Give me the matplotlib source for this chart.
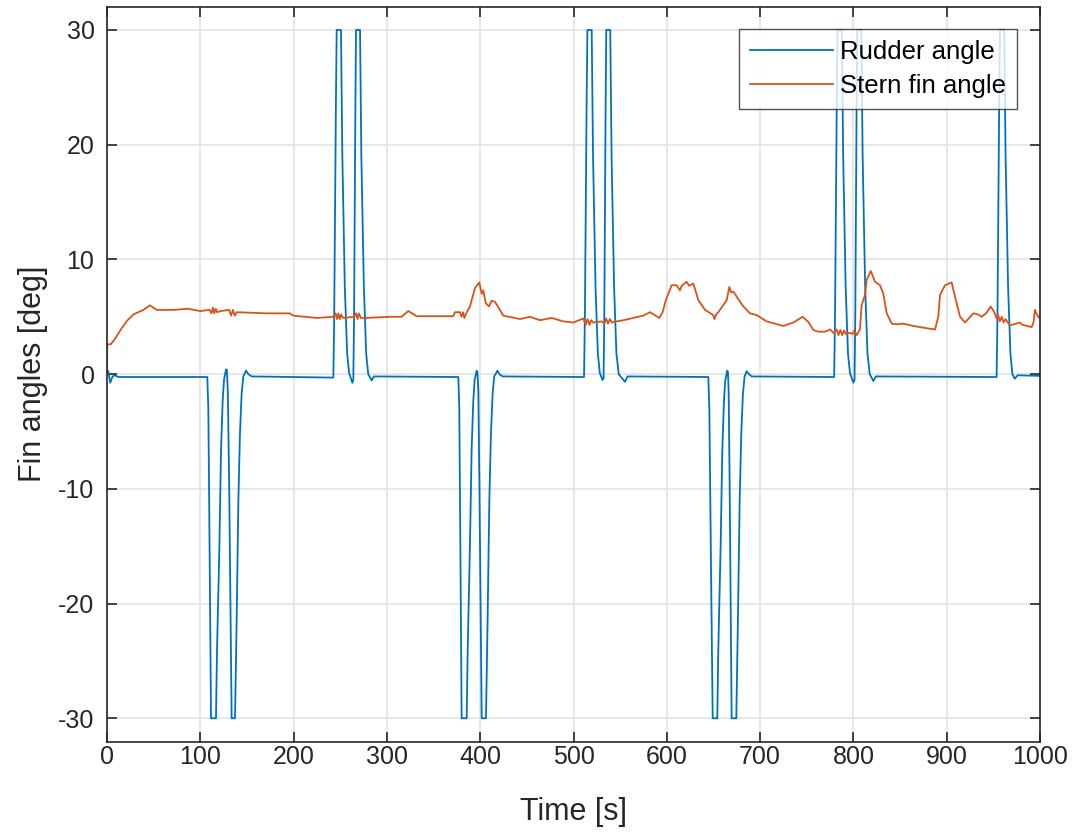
import matplotlib
matplotlib.use("Agg")
import matplotlib.pyplot as plt

# ---------------- data ----------------
rudder_t = [0, 1.5, 3.5, 6, 8.6, 12, 107.5,
            108.6, 109.4, 110.4, 111.5, 116.8, 117.9, 120.4, 122.2, 124.0, 125.4, 127.5, 128.5,
            129.5, 131.0, 132.3, 133.6, 137.2, 139.0, 140.8, 142.5, 144.3, 146.1, 149.0, 151.5, 155.0,
            242.6, 243.5, 244.5, 245.4, 246.2, 250.8, 252.2, 254.9, 257.4, 259.5, 263.0,
            264.0, 264.8, 265.5, 266.2, 266.9, 271.2, 272.6, 275.3, 277.8, 280.0, 283.6, 286.0,
            376.6, 377.6, 378.3, 379.2, 380.1, 385.5, 386.6, 389.0, 390.8, 392.6, 394.0, 396.2, 397.0,
            398.0, 399.2, 400.4, 401.6, 406.2, 408.0, 409.8, 411.5, 413.3, 415.0, 418.5, 420.5, 424.0,
            511.3, 512.2, 513.2, 514.1, 514.9, 519.5, 520.9, 523.6, 526.1, 528.2, 531.0,
            532.2, 533.0, 533.7, 534.4, 535.1, 539.4, 540.8, 543.5, 546.0, 548.5, 555.2, 558.0,
            644.5, 645.6, 646.5, 647.8, 649.2, 654.1, 655.2, 657.7, 659.5, 661.3, 662.7, 664.8, 665.5,
            666.3, 667.4, 668.4, 669.5, 674.5, 676.3, 678.1, 679.8, 681.6, 683.4, 685.6, 688.0, 691.0,
            779.4, 780.3, 781.3, 782.2, 783.0, 787.6, 789.0, 791.7, 794.2, 796.3, 800.0,
            801.2, 802.0, 802.7, 803.4, 804.1, 808.5, 809.9, 812.6, 815.1, 817.5, 821.4, 824.0,
            953.5, 954.4, 955.4, 956.3, 957.1, 961.7, 963.1, 965.8, 968.3, 970.4, 973.0, 976.0, 1000]
rudder_deg = [0.4, 0.2, -0.75, -0.2, -0.1, -0.25, -0.25,
              -3, -10, -20, -30, -30, -24.1, -15.3, -6.6, -2.3, -0.5, 0.4, 0.4,
              -1.5, -10, -20, -30, -30, -21.2, -11, -5.2, -1.7, -0.2, 0.3, 0.0, -0.2,
              -0.3, 5, 15, 24, 30, 30, 19.2, 7.6, 1.8, 0.1, -0.75,
              -0.5, 5, 14, 23, 30, 30, 19, 7.6, 1.8, 0.0, -0.55, -0.2,
              -0.25, -3, -10, -20, -30, -30, -24, -15, -6.6, -2.3, -0.5, 0.3, 0.2,
              -1.5, -10, -20, -30, -30, -21, -11, -5.2, -1.7, -0.2, 0.3, 0.0, -0.2,
              -0.25, 5, 15, 24, 30, 30, 19.2, 7.6, 1.8, 0.1, -0.5,
              -0.4, 5, 14, 23, 30, 30, 19, 7.6, 1.8, 0.0, -0.67, -0.2,
              -0.25, -3, -10, -20, -30, -30, -24, -15, -6.6, -2.3, -0.5, 0.3, 0.2,
              -1.5, -10, -20, -30, -30, -21, -11, -5.2, -1.7, -0.2, 0.25, 0.0, -0.2,
              -0.25, 5, 15, 24, 30, 30, 19.2, 7.6, 1.8, 0.1, -0.75,
              -0.5, 5, 14, 23, 30, 30, 19, 7.6, 1.8, 0.0, -0.6, -0.2,
              -0.25, 5, 15, 24, 30, 30, 19, 7.6, 1.8, 0.0, -0.4, -0.1, -0.15]

stern_t = [0, 0.3, 3.9, 8, 15.7, 22, 28.2, 39, 46, 53.2, 71, 87, 99.7, 110,
           112, 113.5, 115, 116.5, 118, 122, 131, 133, 135, 137, 139, 171, 196, 199.7, 224.8,
           242.6, 245, 246.5, 248, 249.5, 251, 253, 265, 267, 268.5, 270, 272, 278, 303, 315.8,
           322.9, 332, 371, 373, 378.3, 380, 381.5, 383, 385, 389, 394.4, 399, 401.6, 403.3,
           405.9, 409.4, 412.3, 415.9, 424.8, 442.7, 453.4, 464, 476.6, 489, 499.8, 510.5,
           513, 515, 517, 519, 521, 530, 533, 535, 537, 539, 541, 546, 553.4, 574.8, 582, 592,
           595.5, 599, 605.2, 610.6, 614, 616, 621.3, 624, 628.4, 633.8, 641, 649.8, 651, 653,
           655.2, 664.2, 667, 669, 671.3, 674.9, 682, 689.2, 696.3, 707, 724.9, 735.6, 745.6,
           751.7, 757, 762.4, 769.6, 775, 779.2, 782, 784, 786, 788, 790, 792, 796, 799, 801,
           803.5, 807, 808.8, 812.4, 814.2, 818.5, 823.2, 828.5, 832.1, 835.7, 841.1, 846.4,
           853.5, 864.2, 878.6, 887.5, 891, 892.8, 898.2, 905.3, 908.9, 914.3, 919.6, 928.5,
           933.9, 937.5, 942.8, 947.1, 950.7, 953.6, 955, 957, 959, 961, 963, 967.8, 978.6,
           981, 991.1, 993, 994.6, 996, 998.2, 1000]
stern_deg = [0.0, 2.6, 2.6, 3.0, 4.0, 4.7, 5.2, 5.6, 6.0, 5.6, 5.6, 5.7, 5.5, 5.6,
             5.3, 5.8, 5.3, 5.7, 5.4, 5.5, 5.6, 5.1, 5.6, 5.1, 5.4, 5.3, 5.3, 5.1, 4.9,
             5.0, 5.3, 4.8, 5.3, 4.8, 5.2, 4.9, 5.0, 5.3, 4.8, 5.3, 4.9, 4.9, 5.0, 5.0,
             5.5, 5.05, 5.05, 5.4, 5.4, 5.0, 5.4, 4.9, 5.3, 5.9, 7.5, 8.0, 7.0, 7.3,
             6.2, 5.9, 6.4, 6.3, 5.1, 4.8, 5.0, 4.7, 4.9, 4.6, 4.5, 4.85,
             4.3, 4.8, 4.3, 4.7, 4.5, 4.6, 4.4, 4.85, 4.4, 4.8, 4.5, 4.6, 4.7, 5.1, 5.4, 4.9,
             5.4, 6.45, 7.75, 7.75, 7.3, 7.7, 8.05, 7.7, 7.9, 6.45, 5.6, 5.15, 4.8, 5.2,
             5.4, 6.45, 7.6, 7.1, 7.2, 6.75, 5.9, 5.3, 5.15, 4.6, 4.2, 4.5, 5.0,
             4.55, 3.85, 3.7, 3.7, 3.9, 3.55, 3.9, 3.4, 3.85, 3.4, 3.8, 3.5, 3.6, 3.5, 3.8,
             3.4, 3.9, 6.0, 6.9, 8.2, 9.0, 8.05, 7.75, 7.0, 5.3, 4.4, 4.35,
             4.4, 4.2, 4.0, 3.9, 5.0, 6.9, 7.75, 8.0, 6.75, 5.0, 4.5, 5.3,
             5.2, 5.0, 5.35, 5.9, 5.45, 4.85, 5.2, 4.6, 5.0, 4.5, 4.8, 4.25, 4.5,
             4.3, 4.1, 4.5, 5.6, 5.3, 5.0, 4.9]

series_labels = ["Rudder angle", "Stern fin angle"]
x_ticks = [0, 100, 200, 300, 400, 500, 600, 700, 800, 900, 1000]
y_ticks = [-30, -20, -10, 0, 10, 20, 30]
x_label = "Time [s]"
y_label = "Fin angles [deg]"

# ---------------- style ----------------
plt.rcParams['font.family'] = ['Liberation Sans', 'DejaVu Sans']
plt.rcParams['axes.unicode_minus'] = False
axis_col = '#262626'

fig = plt.figure(figsize=(10.75, 8.32), dpi=100)
ax = fig.add_axes([107/1075, 1 - 741.7/832, 933/1075, 735/832])

ax.plot(rudder_t, rudder_deg, color='#0072BD', lw=1.3, label=series_labels[0])
ax.plot(stern_t, stern_deg, color='#D95319', lw=1.3, label=series_labels[1])

ax.set_xlim(0, 1000)
ax.set_ylim(-32.04, 32.03)
ax.set_xticks(x_ticks)
ax.set_yticks(y_ticks)
ax.grid(True, color='#e3e3e3', lw=1.2)
ax.set_axisbelow(True)
for s in ax.spines.values():
    s.set_color(axis_col)
    s.set_linewidth(1.2)
ax.tick_params(direction='in', length=7, width=1.2, colors=axis_col,
               top=True, right=True, labelsize=18)
ax.tick_params(axis='x', pad=2.5)
ax.tick_params(axis='y', pad=9)
ax.set_xlabel(x_label, fontsize=22, color=axis_col, labelpad=20)
ax.set_ylabel(y_label, fontsize=22, color=axis_col, labelpad=7)

leg = ax.legend(loc='upper right', bbox_to_anchor=((1017-107)/933, (741.7-29)/735),
                borderaxespad=0, fontsize=18.5, frameon=True, fancybox=False,
                edgecolor=axis_col, handlelength=3.2, handletextpad=0.3,
                labelspacing=0.4, borderpad=0.42)
leg.get_frame().set_linewidth(1.0)
for t in leg.get_texts():
    t.set_color('black')

fig.savefig('out.png', dpi=100)
